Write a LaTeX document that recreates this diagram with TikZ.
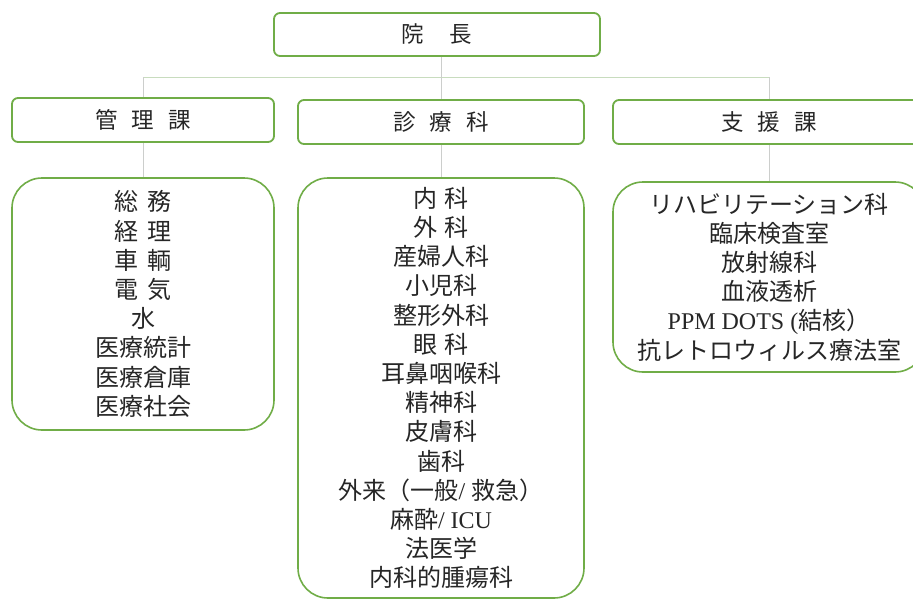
\documentclass[tikz,border=0pt]{standalone}
\usepackage{fontspec}
\setmainfont{Liberation Serif}
\newfontfamily\jp{Noto Sans CJK JP}
\definecolor{boxgreen}{RGB}{112,173,71}
\definecolor{conngray}{RGB}{204,206,204}
\definecolor{conngreen}{RGB}{200,220,190}
\begin{document}
\begin{tikzpicture}[x=1pt,y=-1pt,
  hbox/.style={draw=boxgreen, line width=1.8pt, rounded corners=6pt, fill=white,
     inner sep=0pt, font=\jp\fontsize{22.5}{26}\selectfont, text=black!85},
  lbox/.style={draw=boxgreen, line width=1.6pt, rounded corners=30pt, fill=white,
     inner sep=0pt, align=center, font=\fontsize{24}{29.2}\selectfont, text=black!85},
  conn/.style={draw=conngray, line width=0.9pt},
  hconn/.style={draw=conngreen, line width=0.9pt}]
\clip (0,0) rectangle (913,598);
\fill[white] (0,0) rectangle (913,598);
% level 1
\node[hbox, minimum width=326pt, minimum height=43pt] (top) at (437,34.5) {院\hspace{1.15em}長};
% level 2
\node[hbox, minimum width=262pt, minimum height=44pt] (l2a) at (143,120) {管\hspace{0.62em}理\hspace{0.62em}課};
\node[hbox, minimum width=286pt, minimum height=44pt] (l2b) at (441,122) {診\hspace{0.62em}療\hspace{0.62em}科};
\node[hbox, minimum width=312pt, minimum height=44pt] (l2c) at (769,122) {支\hspace{0.62em}援\hspace{0.62em}課};
% level 3
\node[lbox, minimum width=262pt, minimum height=252pt] (l3a) at (143,304) {%
\jp 総\hspace{0.4em}務\\ \jp 経\hspace{0.4em}理\\ \jp 車\hspace{0.4em}輌\\ \jp 電\hspace{0.4em}気\\ \jp 水\\ \jp 医療統計\\ \jp 医療倉庫\\ \jp 医療社会};
\node[lbox, minimum width=286pt, minimum height=420pt] (l3b) at (441,388) {%
\jp 内\hspace{0.3em}科\\ \jp 外\hspace{0.3em}科\\ \jp 産婦人科\\ \jp 小児科\\ \jp 整形外科\\ \jp 眼\hspace{0.3em}科\\ \jp 耳鼻咽喉科\\ \jp 精神科\\ \jp 皮膚科\\ \jp 歯科\\
{\jp 外来（一般}/ {\jp 救急）}\\ {\jp 麻酔}/ ICU\\ \jp 法医学\\ \jp 内科的腫瘍科};
\node[lbox, minimum width=312pt, minimum height=190pt] (l3c) at (769,277) {%
\jp リハビリテーション科\\ \jp 臨床検査室\\ \jp 放射線科\\ \jp 血液透析\\ PPM DOTS ({\jp 結核）}\\ \jp 抗レトロウィルス療法室};
% connectors
\draw[hconn] (l2a.north |- 0,77) -- (l2c.north |- 0,77);
\draw[conn] (l2b.north |- top.south) -- (l2b.north);
\draw[conn] (l2a.north |- 0,77) -- (l2a.north);
\draw[conn] (l2c.north |- 0,77) -- (l2c.north);
\draw[conn] (l2a.south) -- (l3a.north);
\draw[conn] (l2b.south) -- (l3b.north);
\draw[conn] (l2c.south) -- (l3c.north);
\end{tikzpicture}
\end{document}
